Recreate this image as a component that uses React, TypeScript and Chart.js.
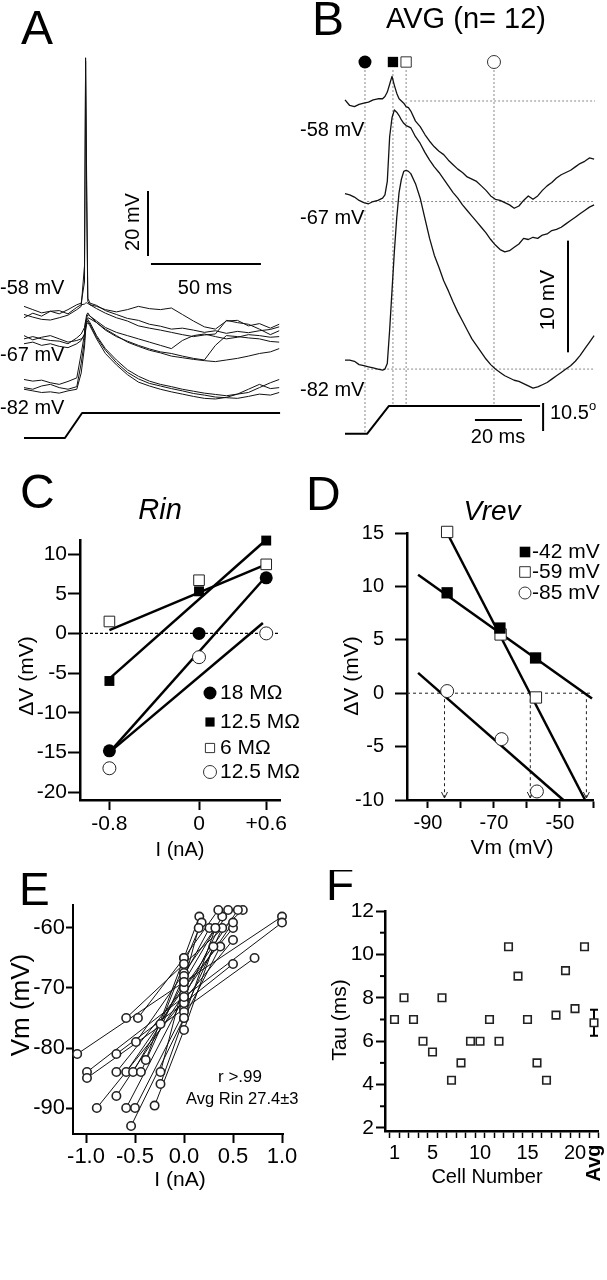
import React, { useEffect, useRef } from "react";
import { Chart, registerables } from "chart.js";
Chart.register(...registerables);

const FONT = '"Liberation Sans", Arial, Helvetica, sans-serif';

// ---------------- Panel A: individual traces (ms, mV) ----------------
const tA = [0, 4, 8, 12, 16, 20, 24, 26, 27.5, 28, 28.5, 29, 30, 33, 37, 42, 47, 52, 57, 62, 67, 72, 77, 82, 87, 92, 97, 102, 107, 112, 116];
const vA58a = [-57.5, -58.5, -59.5, -59, -59.8, -58.5, -57, -56.5, -50, 19, -20, -55, -56.5, -57.2, -58.8, -60, -61.2, -61.8, -63, -63.6, -64.5, -64.2, -64.8, -65.5, -65, -65.8, -65.2, -65.6, -65, -64.6, -63.8];
const vA58b = [-61, -59.6, -60.5, -59, -58.8, -59.8, -57.8, -57, -56.8, -56.5, -56.4, -56.6, -57, -57.5, -58.5, -59.2, -58.5, -57.5, -58.2, -58.5, -58, -60, -62, -63.8, -64.5, -62, -61.8, -63.5, -62.8, -64.2, -63];
const vA58c = [-60, -60.8, -61.5, -61.7, -61, -60.2, -58.5, -57.5, -45, 18, -25, -56, -57, -58.2, -59.6, -61, -62, -63.5, -64.2, -64.8, -65.5, -66.2, -66.8, -66.3, -66, -61.8, -62.5, -63, -64.5, -66.2, -65];
const vA67a = [-67.5, -66.8, -67.5, -68, -68.2, -69, -67.2, -66, -64, -62, -61.5, -61, -61.3, -62.5, -64.5, -66.5, -68.5, -69.8, -71, -71.8, -72.8, -73.3, -73.8, -74.2, -74.5, -74, -73.5, -72.8, -72, -71.5, -70.5];
const vA67b = [-69, -68.5, -69.5, -69, -69.8, -70.2, -69, -68, -66, -62, -60, -59.5, -60.5, -62.5, -64.8, -66.8, -68.2, -69.5, -70.6, -71.5, -72, -72.8, -73.5, -74, -69.5, -66.5, -66.8, -67.2, -67.5, -68.3, -68.5];
const vA67c = [-66.5, -67.8, -67, -66.5, -67.5, -68.5, -68, -67.5, -66.5, -63, -61, -60, -60.5, -62, -64, -65.5, -66.5, -67.5, -68.5, -69.5, -70.5, -68, -66.5, -66, -66.8, -67.5, -67, -66.2, -66.5, -67, -66.8];
const vA82a = [-80, -80.5, -80.2, -81, -81.5, -80.6, -79.5, -72, -66, -63, -62, -61.5, -62.5, -66.5, -70.5, -74, -77, -79, -80.5, -81.5, -82.2, -83, -83.6, -84.2, -84.6, -85, -84.5, -84, -82.5, -81, -80];
const vA82b = [-82.5, -83, -82, -81.5, -82.5, -83, -82.2, -75, -68, -64, -62.5, -62, -63, -67, -71, -74.8, -77.8, -79.8, -81.2, -82, -82.8, -83.5, -84.3, -84.8, -85.4, -85.6, -85.8, -85.2, -84.5, -84.8, -84];
const vA82c = [-83, -83.5, -84, -83.8, -84.2, -83.5, -83, -78, -70, -65, -63, -62.5, -63.5, -67.5, -72, -75.5, -78.5, -80.8, -82, -83, -83.8, -84.5, -85.2, -85.8, -86, -85.5, -84.5, -83, -81.5, -82.8, -82.5];
const stimAT = [0, 18.6, 26.4, 116.4];
const stimAV = [-98, -98, -90.3, -90.3];
const aLabels = ["-58 mV", "-67 mV", "-82 mV"];

// ---------------- Panel B: averaged traces ----------------
const tB = [0, 2, 4, 6, 8, 10, 12, 14, 16, 17, 18, 19, 20, 21, 22, 23, 24, 25, 26, 27, 28, 30, 32, 34, 36, 38, 40, 42, 44, 46, 48, 50, 52, 54, 56, 58, 60, 62, 64, 66, 68, 70, 72, 74, 76, 78, 80, 82, 84, 86, 88, 90, 92, 94, 96, 98, 100, 102, 104, 106];
const vB58 = [-57.9, -58.4, -58.5, -58.3, -58.2, -58.1, -57.9, -57.8, -57.8, -57.6, -57.2, -56.5, -55.8, -56.6, -57.3, -57.8, -58.0, -58.2, -58.5, -58.6, -58.9, -59.8, -60.3, -61.0, -61.6, -62.1, -62.5, -62.8, -63.3, -63.7, -64.1, -64.4, -64.8, -65.0, -65.2, -65.6, -66.0, -66.5, -66.8, -66.9, -67.1, -67.3, -67.6, -67.4, -66.9, -66.5, -66.8, -66.5, -66.0, -65.6, -65.3, -64.9, -64.6, -64.4, -64.2, -63.9, -63.6, -63.4, -63.1, -63.2];
const vB67 = [-66.3, -66.4, -66.6, -66.9, -67.1, -67.2, -67.0, -66.9, -66.7, -66.4, -65.2, -61.2, -59.5, -58.8, -59.0, -59.3, -59.7, -60.0, -60.2, -60.3, -60.4, -61.2, -61.8, -62.6, -63.3, -63.9, -64.4, -65.0, -65.6, -66.2, -66.7, -67.3, -67.8, -68.3, -68.8, -69.3, -69.8, -70.4, -70.9, -71.3, -71.5, -71.4, -71.1, -70.8, -70.3, -70.4, -70.2, -70.3, -70.0, -69.9, -69.6, -69.5, -69.3, -69.0, -68.7, -68.4, -68.1, -67.8, -67.5, -67.3];
const vB82 = [-81.2, -81.2, -81.3, -81.6, -81.7, -81.8, -81.9, -82.0, -82.1, -82.0, -81.5, -78.5, -75.0, -71.5, -68.5, -66.2, -65.0, -64.3, -64.2, -64.3, -64.5, -65.4, -66.7, -68.5, -70.3, -71.8, -72.9, -74.1, -75.0, -76.0, -76.9, -77.7, -78.5, -79.3, -79.9, -80.5, -81.1, -81.6, -82.0, -82.3, -82.6, -82.8, -83.0, -83.1, -83.3, -83.5, -83.7, -83.6, -83.4, -83.2, -82.9, -82.6, -82.3, -82.0, -81.7, -81.3, -80.8, -80.2, -79.6, -79.0];
const stimBT = [0, 9.4, 18.7, 83];
const stimBV = [-87.8, -87.8, -85.3, -85.3];
const bBaselines = [-58, -67, -82];
const bMarkTimes = [8.5, 20.4, 26, 63.4];
const bMarkKinds = ["fc", "fs", "os", "oc"];
const bLabels = ["-58 mV", "-67 mV", "-82 mV"];

// ---------------- Panel C: Rin ----------------
const cCurrent = [-0.8, 0, 0.6];
const cTickLabels = ["-0.8", "0", "+0.6"];
const cYTicks = [-20, -15, -10, -5, 0, 5, 10];
const c18 = [-14.8, 0, 7];
const c125a = [-6, 5.3, 11.7];
const c6 = [1.5, 6.7, 8.7];
const c125b = [-17, -3, 0];
const cFitX = [[-0.8, 0.6], [-0.8, 0.6], [-0.8, 0.6], [-0.8, 0.57]];
const cFitY = [[-15, 7.2], [-5.7, 11.8], [0.4, 8.7], [-15, 1.3]];
const cLegend = ["18 MΩ", "12.5 MΩ", "6 MΩ", "12.5 MΩ"];

// ---------------- Panel D: Vrev ----------------
const dVm42 = [-84.2, -68.2, -57.4];
const dV42 = [9.4, 6.1, 3.3];
const dVm59 = [-84.2, -68.0, -57.3];
const dV59 = [15.1, 5.5, -0.4];
const dVm85 = [-84.2, -67.7, -57.0];
const dV85 = [0.2, -4.3, -9.2];
const dFitX = [[-93, -40.3], [-84.2, -42.4], [-93, -49]];
const dFitY = [[11.1, -0.5], [15, -10], [1.9, -10]];
const dVrev = [-42, -59, -85];
const dLegend = ["-42 mV", "-59 mV", "-85 mV"];
const dXTicks = [-90, -80, -70, -60, -50, -40];
const dXLabelled = [-90, -70, -50];
const dYTicks = [-10, -5, 0, 5, 10, 15];

// ---------------- Panel E: I-V per cell ----------------
const eNegI = [-1.09, -0.99, -0.99, -0.89, -0.69, -0.69, -0.69, -0.59, -0.59, -0.59, -0.54, -0.52, -0.5, -0.49, -0.47, -0.44, -0.39, -0.3, -0.24, -0.24, -0.24];
const eNegV = [-81, -84, -85, -90, -81, -84, -88, -75, -84, -90, -93, -84, -90, -79, -75, -84, -82, -89.6, -76, -84, -86];
const eZeroV = [-69, -71.5, -73.5, -72, -72.5, -70, -71, -66, -70, -71.5, -75, -69, -74, -67.5, -65, -68, -65, -77, -66, -69, -75];
const ePosI = [1.0, 1.0, 0.72, 0.5, 0.5, 0.5, 0.5, 0.6, 0.55, 0.45, 0.37, 0.39, 0.39, 0.32, 0.35, 0.26, 0.156, 0.3, 0.18, 0.15, 0.32];
const ePosV = [-58.1, -59.1, -65, -62, -66, -60, -59.1, -57, -57, -57, -63.1, -58.1, -60, -60, -57, -60, -58.1, -63.1, -59.1, -60, -60];
const eXTicks = [-1, -0.5, 0, 0.5, 1];
const eYTicks = [-90, -80, -70, -60];

// ---------------- Panel F: Tau ----------------
const fCell = [1, 2, 3, 4, 5, 6, 7, 8, 9, 10, 11, 12, 13, 14, 15, 16, 17, 18, 19, 20, 21];
const fTau = [7, 8, 7, 6, 5.5, 8, 4.2, 5, 6, 6, 7, 6, 10.35, 9, 7, 5, 4.2, 7.2, 9.25, 7.5, 10.35];
const fAvgPos = 22;
const fAvg = 6.85;
const fSem = 0.6;
const fXTicks = [1, 2, 3, 4, 5, 6, 7, 8, 9, 10, 11, 12, 13, 14, 15, 16, 17, 18, 19, 20, 21, 22];
const fXLabelled = [1, 5, 10, 15, 20];
const fYTicks = [2, 4, 6, 8, 10, 12];
const fYMinor = [3, 5, 7, 9, 11];

// ---------------- helpers ----------------
type Pt = { x: number; y: number };
const xy = (xs: number[], ys: number[]): Pt[] => xs.map((x, i) => ({ x, y: ys[i] }));

function txt(ctx: any, s: string, x: number, y: number, size: number, o: any = {}) {
  ctx.save();
  ctx.font = `${o.style || ""} ${size}px ${FONT}`;
  ctx.fillStyle = "#000";
  ctx.textAlign = o.align || "left";
  ctx.textBaseline = o.base || "middle";
  ctx.translate(x, y);
  if (o.rot) ctx.rotate(o.rot);
  ctx.fillText(s, 0, 0);
  ctx.restore();
}
function seg(ctx: any, x1: number, y1: number, x2: number, y2: number, w = 1, dash: number[] = [], color = "#000") {
  ctx.save();
  ctx.beginPath();
  ctx.setLineDash(dash);
  ctx.lineWidth = w;
  ctx.strokeStyle = color;
  ctx.moveTo(x1, y1);
  ctx.lineTo(x2, y2);
  ctx.stroke();
  ctx.restore();
}
function mark(ctx: any, kind: string, x: number, y: number, r: number) {
  ctx.save();
  ctx.beginPath();
  if (kind[1] === "c") ctx.arc(x, y, r, 0, Math.PI * 2);
  else {
    const h = r * Math.SQRT1_2;
    ctx.rect(x - h, y - h, 2 * h, 2 * h);
  }
  if (kind[0] === "f") {
    ctx.fillStyle = "#000";
    ctx.fill();
  } else {
    ctx.fillStyle = "#fff";
    ctx.fill();
    ctx.lineWidth = 1;
    ctx.strokeStyle = "#333";
    ctx.stroke();
  }
  ctx.restore();
}

type Draw = (ctx: any, X: (v: number) => number, Y: (v: number) => number) => void;
function overlay(L: number, T: number, before: Draw | null, after: Draw | null) {
  const run = (chart: any, fn: Draw | null) => {
    if (!fn) return;
    const ctx = chart.ctx;
    const sx = chart.scales.x;
    const sy = chart.scales.y;
    const X = (v: number) => sx.getPixelForValue(v) + L;
    const Y = (v: number) => sy.getPixelForValue(v) + T;
    ctx.save();
    ctx.translate(-L, -T);
    fn(ctx, X, Y);
    ctx.restore();
  };
  return {
    id: "overlay",
    beforeDatasetsDraw: (c: any) => run(c, before),
    afterDraw: (c: any) => run(c, after),
  };
}

const lineDs = (data: Pt[], w = 1, color = "#000") => ({
  data,
  showLine: true,
  borderColor: color,
  borderWidth: w,
  borderJoinStyle: "round",
  pointRadius: 0,
  fill: false,
  tension: 0,
  clip: false,
  order: 1,
});
const ptDs = (data: Pt[], kind: string, r: number, bw = 1) => ({
  data,
  showLine: false,
  pointStyle: kind[1] === "c" ? "circle" : "rect",
  pointRadius: r,
  pointBackgroundColor: kind[0] === "f" ? "#000" : "#fff",
  pointBorderColor: kind[0] === "f" ? "#000" : "#222",
  pointBorderWidth: kind[0] === "f" ? 0 : bw,
  clip: false,
  order: 0,
});

function baseOptions(scales: any, padding: any) {
  return {
    responsive: false,
    maintainAspectRatio: false,
    animation: false,
    devicePixelRatio: 1,
    events: [],
    layout: { padding },
    plugins: { legend: { display: false }, tooltip: { enabled: false }, title: { display: false } },
    scales,
  };
}

function axis(o: any) {
  return {
    type: "linear",
    min: o.min,
    max: o.max,
    afterBuildTicks: (s: any) => {
      s.ticks = o.ticks.map((v: number) => ({ value: v }));
    },
    afterFit: (s: any) => {
      if (o.horiz) s.height = o.fit;
      else s.width = o.fit;
    },
    ticks: {
      autoSkip: false,
      maxRotation: 0,
      minRotation: 0,
      padding: o.pad,
      color: "#000",
      font: { family: FONT, size: o.size },
      callback: (v: any, i: number) => o.label(v, i),
    },
    grid: {
      display: true,
      drawOnChartArea: false,
      drawTicks: true,
      tickLength: o.tickLen,
      tickWidth: o.tickW || 2,
      tickColor: "#000",
      offset: !!o.gridOffset,
    },
    border: { display: true, color: "#000", width: o.border },
  };
}
const hidden = (min: number, max: number) => ({ type: "linear", display: false, min, max });

// ---------------- chart builders ----------------
function buildA(L: number, T: number) {
  const traces = [vA58a, vA58b, vA58c, vA67a, vA67b, vA67c, vA82a, vA82b, vA82c];
  const datasets: any[] = traces.map((v) => lineDs(xy(tA, v), 1, "#111"));
  datasets.push(lineDs(xy(stimAT, stimAV), 2));
  return {
    type: "scatter",
    data: { datasets },
    options: baseOptions({ x: hidden(-10.909, 125.455), y: hidden(-104.77, 36.77) }, 0),
    plugins: [
      overlay(L, T, null, (ctx, X, Y) => {
        txt(ctx, "A", 21, 44, 48, { base: "alphabetic" });
        txt(ctx, aLabels[0], 0, 288, 20);
        txt(ctx, aLabels[1], 0, 355, 20);
        txt(ctx, aLabels[2], 0, 408, 20);
        seg(ctx, X(56.36), Y(-22), X(56.36), Y(-42), 2);
        seg(ctx, X(57.7), Y(-44.5), X(107.7), Y(-44.5), 2);
        txt(ctx, "20 mV", 133, 222, 20, { align: "center", rot: -Math.PI / 2 });
        txt(ctx, "50 ms", 205, 288, 20, { align: "center" });
      }),
    ],
  };
}

function buildB(L: number, T: number) {
  const datasets: any[] = [vB58, vB67, vB82].map((v) => lineDs(xy(tB, v), 1.3, "#111"));
  datasets.push(lineDs(xy(stimBT, stimBV), 2));
  return {
    type: "scatter",
    data: { datasets },
    options: baseOptions({ x: hidden(-19.149, 111.489), y: hidden(-90.14, -48.958) }, 0),
    plugins: [
      overlay(
        L,
        T,
        (ctx, X, Y) => {
          const dash = [2, 2];
          const col = "#8a8a8a";
          bMarkTimes.forEach((t, i) => {
            const end = i === 0 ? Y(stimBV[0]) : Y(stimBV[2]);
            seg(ctx, X(t), 70, X(t), end, 1, dash, col);
          });
          const from = [27.7, 9.4, 9.4];
          bBaselines.forEach((v, i) => seg(ctx, X(from[i]), Y(v), X(106.4), Y(v), 1, dash, col));
        },
        (ctx, X, Y) => {
          txt(ctx, "B", 312, 35, 48, { base: "alphabetic" });
          txt(ctx, "AVG (n= 12)", 466, 20, 29, { align: "center" });
          bMarkTimes.forEach((t, i) => mark(ctx, bMarkKinds[i], X(t), 62, bMarkKinds[i][1] === "c" ? 6.5 : 7.3));
          txt(ctx, bLabels[0], 300, 130, 20);
          txt(ctx, bLabels[1], 300, 218, 20);
          txt(ctx, bLabels[2], 300, 390, 20);
          seg(ctx, X(94.9), Y(-70.5), X(94.9), Y(-80.5), 2);
          txt(ctx, "10 mV", 548, 300, 21, { align: "center", rot: -Math.PI / 2 });
          seg(ctx, X(55.3), Y(-86.56), X(75.3), Y(-86.56), 2);
          txt(ctx, "20 ms", 498, 437, 20, { align: "center" });
          seg(ctx, X(84.3), 403, X(84.3), 431, 2);
          txt(ctx, "10.5", 550, 413, 20);
          txt(ctx, "o", 589, 406, 13);
        }
      ),
    ],
  };
}

function buildC(L: number, T: number) {
  const datasets: any[] = [
    ptDs(xy(cCurrent, c18), "fc", 6.5),
    ptDs(xy(cCurrent, c125a), "fs", 7),
    ptDs(xy(cCurrent, c6), "os", 7.5),
    ptDs(xy(cCurrent, c125b), "oc", 6.5),
  ];
  cFitX.forEach((xs, i) => datasets.push(lineDs(xy(xs, cFitY[i]), 2.5)));
  const scales = {
    x: axis({ min: -1.0625, max: 0.723, ticks: cCurrent, label: (_v: any, i: number) => cTickLabels[i], size: 21, tickLen: 10, pad: 2, border: 2.5, fit: 70, horiz: true }),
    y: axis({ min: -21.0, max: 11.77, ticks: cYTicks, label: (v: any) => String(v), size: 21, tickLen: 12, pad: 1, border: 2.5, fit: 80 }),
  };
  return {
    type: "scatter",
    data: { datasets },
    options: baseOptions(scales, { left: 0, right: 20, top: 80, bottom: 0 }),
    plugins: [
      overlay(
        L,
        T,
        (ctx, X, Y) => {
          seg(ctx, X(-1.0625), Y(0), X(0.72), Y(0), 1.2, [3, 2]);
        },
        (ctx) => {
          txt(ctx, "C", 20, 508, 48, { base: "alphabetic" });
          txt(ctx, "Rin", 160, 519, 29, { align: "center", base: "alphabetic", style: "italic" });
          txt(ctx, "ΔV (mV)", 27, 676, 21, { align: "center", rot: -Math.PI / 2 });
          txt(ctx, "I (nA)", 180, 850, 20, { align: "center" });
          const kinds = ["fc", "fs", "os", "oc"];
          const ys = [693, 722, 748, 772];
          kinds.forEach((k, i) => {
            mark(ctx, k, 210, ys[i], 6.5);
            txt(ctx, cLegend[i], 220, ys[i], 21);
          });
        }
      ),
    ],
  };
}

function buildD(L: number, T: number) {
  const datasets: any[] = [
    ptDs(xy(dVm42, dV42), "fs", 8),
    ptDs(xy(dVm59, dV59), "os", 8),
    ptDs(xy(dVm85, dV85), "oc", 6.5),
  ];
  dFitX.forEach((xs, i) => datasets.push(lineDs(xy(xs, dFitY[i]), 2.5)));
  const scales = {
    x: axis({ min: -96.36, max: -40, ticks: dXTicks, label: (v: any) => (dXLabelled.includes(v) ? String(v) : ""), size: 20, tickLen: 8, pad: 3, border: 2.5, fit: 70, horiz: true }),
    y: axis({ min: -10, max: 15, ticks: dYTicks, label: (v: any) => String(v), size: 20, tickLen: 12, pad: 11, border: 2.5, fit: 107 }),
  };
  return {
    type: "scatter",
    data: { datasets },
    options: baseOptions(scales, { left: 0, right: 14, top: 73, bottom: 0 }),
    plugins: [
      overlay(
        L,
        T,
        (ctx, X, Y) => {
          seg(ctx, X(-96.36), Y(0), X(-40.6), Y(0), 1, [3, 3], "#222");
          dVrev.forEach((v) => {
            seg(ctx, X(v), Y(0), X(v), Y(-10) - 2, 1, [3, 3], "#222");
            seg(ctx, X(v) - 3, Y(-10) - 8, X(v), Y(-10) - 2, 1, [], "#222");
            seg(ctx, X(v) + 3, Y(-10) - 8, X(v), Y(-10) - 2, 1, [], "#222");
          });
        },
        (ctx) => {
          txt(ctx, "D", 306, 510, 48, { base: "alphabetic" });
          txt(ctx, "Vrev", 492, 520, 28, { align: "center", base: "alphabetic", style: "italic" });
          txt(ctx, "ΔV (mV)", 352, 676, 21, { align: "center", rot: -Math.PI / 2 });
          txt(ctx, "Vm (mV)", 512, 848, 21, { align: "center" });
          const kinds = ["fs", "os", "oc"];
          const ys = [552, 572, 593];
          kinds.forEach((k, i) => {
            mark(ctx, k, 525, ys[i], k[1] === "c" ? 6 : 7.5);
            txt(ctx, dLegend[i], 532, ys[i], 21);
          });
        }
      ),
    ],
  };
}

function buildE(L: number, T: number) {
  const all: Pt[] = [];
  const lines: any[] = [];
  eNegI.forEach((ni, i) => {
    const pts = [
      { x: ni, y: eNegV[i] },
      { x: 0, y: eZeroV[i] },
      { x: ePosI[i], y: ePosV[i] },
    ];
    pts.forEach((p) => all.push(p));
    lines.push(lineDs(pts, 1, "#111"));
  });
  const datasets: any[] = [ptDs(all, "oc", 4.2, 1.6), ...lines];
  const scales = {
    x: axis({ min: -1.1327, max: 1.0102, ticks: eXTicks, label: (v: any) => Number(v).toFixed(1), size: 22, tickLen: 9, pad: 1, border: 2, fit: 66, horiz: true }),
    y: axis({ min: -94.33, max: -56.17, ticks: eYTicks, label: (v: any) => String(v), size: 22, tickLen: 7, pad: 1, border: 2, fit: 73 }),
  };
  return {
    type: "scatter",
    data: { datasets },
    options: baseOptions(scales, { left: 0, right: 17, top: 35, bottom: 0 }),
    plugins: [
      overlay(L, T, null, (ctx) => {
        txt(ctx, "E", 19, 905, 46, { base: "alphabetic" });
        txt(ctx, "Vm (mV)", 22, 1005, 26, { align: "center", rot: -Math.PI / 2 });
        txt(ctx, "I (nA)", 180, 1180, 21, { align: "center" });
        txt(ctx, "r >.99", 240, 1077, 17, { align: "center" });
        txt(ctx, "Avg Rin 27.4±3", 186, 1099, 16.5);
      }),
    ],
  };
}

function buildF(L: number, T: number) {
  const datasets: any[] = [ptDs(xy(fCell, fTau), "os", 5.3, 1.6), ptDs([{ x: fAvgPos, y: fAvg }], "os", 5.3, 1.6)];
  const scales = {
    x: axis({ min: 0, max: 22.5, ticks: fXTicks, label: (v: any) => (fXLabelled.includes(v) ? String(v) : ""), size: 20, tickLen: 7, pad: 3, tickW: 1.5, border: 2.5, fit: 69, horiz: true, gridOffset: true }),
    y: axis({ min: 1.86, max: 12, ticks: fYTicks, label: (v: any) => String(v), size: 21, tickLen: 9, pad: 2, border: 2.5, fit: 85 }),
  };
  return {
    type: "scatter",
    data: { datasets },
    options: baseOptions(scales, { left: 0, right: 8.25, top: 41, bottom: 0 }),
    plugins: [
      overlay(
        L,
        T,
        (ctx, X, Y) => {
          const x = X(fAvgPos);
          seg(ctx, x, Y(fAvg - fSem), x, Y(fAvg + fSem), 2);
          seg(ctx, x - 4, Y(fAvg - fSem), x + 4, Y(fAvg - fSem), 2);
          seg(ctx, x - 4, Y(fAvg + fSem), x + 4, Y(fAvg + fSem), 2);
        },
        (ctx, X, Y) => {
          fYMinor.forEach((v) => seg(ctx, X(0) - 5, Y(v), X(0), Y(v), 2));
          txt(ctx, "F", 326, 900, 46, { base: "alphabetic" });
          txt(ctx, "Tau (ms)", 340, 1020, 21, { align: "center", rot: -Math.PI / 2 });
          txt(ctx, "Cell Number", 487, 1177, 20, { align: "center" });
          txt(ctx, "Avg", X(fAvgPos), 1163, 20, { align: "center", rot: -Math.PI / 2, style: "bold" });
        }
      ),
    ],
  };
}

function ChartBox(props: { left: number; top: number; width: number; height: number; build: (L: number, T: number) => any }) {
  const { left, top, width, height, build } = props;
  const ref = useRef<HTMLCanvasElement>(null);
  useEffect(() => {
    const chart = new Chart(ref.current as HTMLCanvasElement, build(left, top));
    return () => chart.destroy();
  }, []);
  return <canvas ref={ref} width={width} height={height} style={{ position: "absolute", left, top, width, height }} />;
}

export default function App() {
  return (
    <div style={{ position: "absolute", left: 0, top: 0, width: 607, height: 1280, background: "#fff", overflow: "hidden" }}>
      <ChartBox left={0} top={0} width={300} height={460} build={buildA} />
      <ChartBox left={300} top={0} width={307} height={460} build={buildB} />
      <ChartBox left={0} top={460} width={300} height={410} build={buildC} />
      <ChartBox left={300} top={460} width={307} height={410} build={buildD} />
      <ChartBox left={0} top={870} width={300} height={330} build={buildE} />
      <ChartBox left={300} top={870} width={307} height={330} build={buildF} />
    </div>
  );
}
